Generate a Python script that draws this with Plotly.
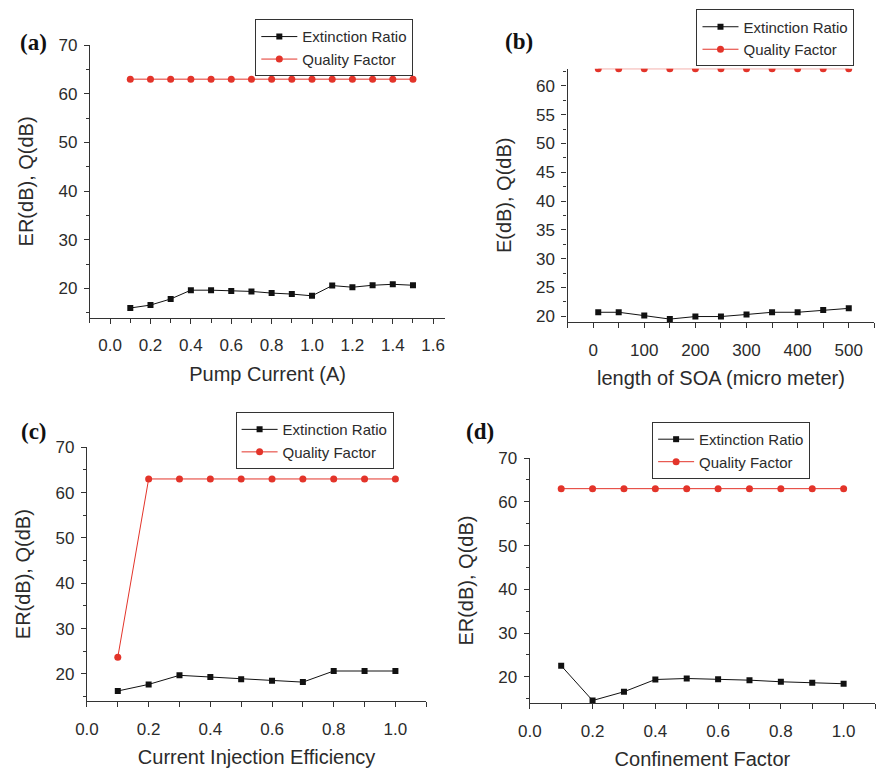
import plotly.graph_objects as go

W, H = 876, 774

# (a) Pump current sweep
pump_current = [0.1, 0.2, 0.3, 0.4, 0.5, 0.6, 0.7, 0.8, 0.9, 1.0, 1.1, 1.2, 1.3, 1.4, 1.5]
er_pump = [16.0, 16.6, 17.85, 19.66, 19.66, 19.5, 19.4, 19.06, 18.86, 18.5, 20.6, 20.27, 20.67, 20.87, 20.67]
q_pump = [63.0, 63.0, 63.0, 63.0, 63.0, 63.0, 63.0, 63.0, 63.0, 63.0, 63.0, 63.0, 63.0, 63.0, 63.0]

# (b) SOA length sweep (micro meter)
soa_length = [10, 50, 100, 150, 200, 250, 300, 350, 400, 450, 500]
er_length = [20.68, 20.68, 20.1, 19.5, 19.94, 19.94, 20.3, 20.68, 20.68, 21.08, 21.36]
q_length = [63.0, 63.0, 63.0, 63.0, 63.0, 63.0, 63.0, 63.0, 63.0, 63.0, 63.0]

# (c) Current injection efficiency sweep
injection_eff = [0.1, 0.2, 0.3, 0.4, 0.5, 0.6, 0.7, 0.8, 0.9, 1.0]
er_injection = [16.25, 17.7, 19.7, 19.35, 18.85, 18.5, 18.2, 20.65, 20.65, 20.65]
q_injection = [23.7, 63.0, 63.0, 63.0, 63.0, 63.0, 63.0, 63.0, 63.0, 63.0]

# (d) Confinement factor sweep
confinement = [0.1, 0.2, 0.3, 0.4, 0.5, 0.6, 0.7, 0.8, 0.9, 1.0]
er_confinement = [22.55, 14.6, 16.6, 19.4, 19.63, 19.48, 19.25, 18.88, 18.65, 18.43]
q_confinement = [63.0, 63.0, 63.0, 63.0, 63.0, 63.0, 63.0, 63.0, 63.0, 63.0]

ER_NAME = "Extinction Ratio"
Q_NAME = "Quality Factor"

FONT = "Liberation Sans, Arial, Helvetica, sans-serif"
TXT = "#2b2b2b"
RED = "#e3342a"
BLACK = "#111111"
AXIS = "#333333"


def dom_x(left, right):
    return [left / W, right / W]


def dom_y(top, bottom):
    return [1 - bottom / H, 1 - top / H]


panels = [
    dict(x=pump_current, er=er_pump, q=q_pump, legend="legend"),
    dict(x=soa_length, er=er_length, q=q_length, legend="legend2"),
    dict(x=injection_eff, er=er_injection, q=q_injection, legend="legend3"),
    dict(x=confinement, er=er_confinement, q=q_confinement, legend="legend4"),
]

fig = go.Figure()
for i, p in enumerate(panels, start=1):
    sfx = "" if i == 1 else str(i)
    fig.add_trace(go.Scatter(
        x=p["x"], y=p["er"], name=ER_NAME, mode="lines+markers",
        line=dict(color=BLACK, width=1),
        marker=dict(symbol="square", size=6, color=BLACK),
        xaxis="x" + sfx, yaxis="y" + sfx, legend=p["legend"],
    ))
    fig.add_trace(go.Scatter(
        x=p["x"], y=p["q"], name=Q_NAME, mode="lines+markers",
        line=dict(color=RED, width=1),
        marker=dict(symbol="circle", size=7, color=RED),
        xaxis="x" + sfx, yaxis="y" + sfx, legend=p["legend"],
    ))

base_axis = dict(
    showline=True, linecolor=AXIS, linewidth=1.3,
    ticks="outside", ticklen=5, tickwidth=1.2, tickcolor=AXIS,
    showgrid=False, zeroline=False, mirror=False,
    tickfont=dict(family=FONT, size=17, color=TXT),
)


def xaxis(domain, rng, dtick, minor, title, anchor, fmt, standoff=12):
    return dict(base_axis, domain=domain, range=rng, dtick=dtick, tick0=0,
                tickformat=fmt, anchor=anchor, ticklabelstandoff=7,
                minor=dict(dtick=minor, tick0=0, ticks="outside", ticklen=4.5,
                           tickcolor=AXIS, tickwidth=1, showgrid=False),
                title=dict(text=title, standoff=standoff,
                           font=dict(family=FONT, size=20, color=TXT)))


def yaxis(domain, rng, dtick, minor, title, anchor, standoff=19):
    return dict(base_axis, domain=domain, range=rng, dtick=dtick, tick0=0,
                anchor=anchor, ticklabelstandoff=3,
                minor=dict(dtick=minor, tick0=0, ticks="outside", ticklen=3,
                           tickcolor=AXIS, tickwidth=1, showgrid=False),
                title=dict(text=title, standoff=standoff,
                           font=dict(family=FONT, size=20, color=TXT)))


def legend_at(left, top):
    return dict(
        x=left / W, y=1 - top / H, xanchor="left", yanchor="top",
        xref="paper", yref="paper",
        bgcolor="white", bordercolor=AXIS, borderwidth=1,
        font=dict(family=FONT, size=15, color=TXT),
        itemwidth=36, tracegroupgap=0, itemclick=False,
    )


fig.update_layout(
    width=W, height=H, margin=dict(l=0, r=0, t=0, b=0),
    paper_bgcolor="white", plot_bgcolor="white",
    showlegend=True,
    xaxis=xaxis(dom_x(79, 439.3), [-0.1, 1.66], 0.2, 0.1, "Pump Current (A)", "y", ".1f"),
    yaxis=yaxis(dom_y(36.7, 314), [14, 70], 10, 5, "ER(dB), Q(dB)", "x"),
    xaxis2=xaxis(dom_x(563.3, 874.3), [-50, 550], 100, 50, "length of SOA (micro meter)", "y2", "d"),
    yaxis2=yaxis(dom_y(60.7, 318.3), [19, 63], 5, 2.5, "E(dB), Q(dB)", "x2"),
    xaxis3=xaxis(dom_x(76, 420), [0, 1.1], 0.2, 0.1, "Current Injection Efficiency", "y3", ".1f"),
    yaxis3=yaxis(dom_y(445.7, 704), [14, 70], 10, 5, "ER(dB), Q(dB)", "x3"),
    xaxis4=xaxis(dom_x(525, 875), [0, 1.1], 0.2, 0.1, "Confinement Factor", "y4", ".1f"),
    yaxis4=yaxis(dom_y(456.7, 706), [14, 70], 10, 5, "ER(dB), Q(dB)", "x4"),
    legend=legend_at(246.7, 10.5),
    legend2=legend_at(694, 0.5),
    legend3=legend_at(226.7, 410),
    legend4=legend_at(649, 420),
)

# Panel letters
for label, cx, cy in [("(a)", 22, 34), ("(b)", 514, 33), ("(c)", 22, 430), ("(d)", 474, 430)]:
    fig.add_annotation(
        text="<b>" + label + "</b>", x=cx / W, y=1 - cy / H, xref="paper", yref="paper",
        xanchor="center", yanchor="middle", showarrow=False,
        font=dict(family="Liberation Serif, Times New Roman, serif", size=23, color="#111111"),
    )

# Let the figure sit flush against the page corner
fig.write_html("out.html", post_script="document.body.style.margin='0';")
